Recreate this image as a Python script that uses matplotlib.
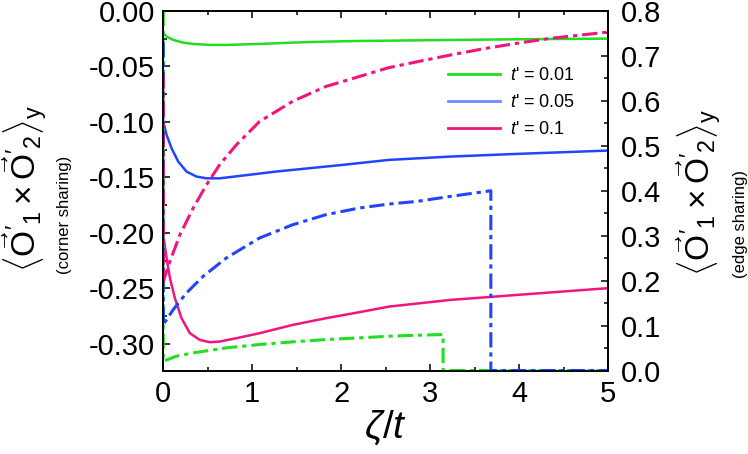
import matplotlib
matplotlib.use("Agg")
import matplotlib.pyplot as plt
from matplotlib.lines import Line2D
from matplotlib.ticker import MultipleLocator

plt.rcParams['font.family'] = ['Liberation Sans', 'DejaVu Sans']
plt.rcParams['mathtext.fontset'] = 'custom'
plt.rcParams['mathtext.rm'] = 'Liberation Sans'
plt.rcParams['mathtext.it'] = 'Liberation Sans:italic'
plt.rcParams['mathtext.sf'] = 'Liberation Sans'

# corner sharing (left axis, solid)
x_g = [0.0, 0.037, 0.112, 0.224, 0.336, 0.522, 0.709, 1.082, 1.455, 1.828, 2.20, 2.48, 3.23, 3.97, 5.0]
y_g = [-0.0201, -0.0231, -0.0261, -0.0285, -0.0297, -0.0306, -0.0306, -0.0297, -0.0285, -0.0276,
       -0.0270, -0.0268, -0.0261, -0.0255, -0.0249]
x_b = [0.0, 0.037, 0.093, 0.168, 0.261, 0.373, 0.485, 0.634, 0.896, 1.269, 1.642, 2.015, 2.537,
       3.228, 3.974, 5.0]
y_b = [-0.0997, -0.1117, -0.1237, -0.1357, -0.1447, -0.1492, -0.1508, -0.1508, -0.1483, -0.1447,
       -0.1417, -0.1387, -0.1342, -0.1312, -0.1288, -0.1258]
x_p = [0.0, 0.037, 0.075, 0.131, 0.205, 0.299, 0.410, 0.522, 0.634, 0.821, 1.082, 1.455, 1.828,
       2.201, 2.537, 3.228, 3.974, 5.0]
y_p = [-0.2018, -0.2228, -0.2408, -0.2589, -0.2769, -0.2904, -0.2964, -0.2985, -0.2979, -0.2949,
       -0.2904, -0.2829, -0.2769, -0.2715, -0.2664, -0.2604, -0.2559, -0.2498]

# edge sharing (right axis, dash-dot)
xe_g = [0.0, 0.0, 0.149, 0.336, 0.709, 1.082, 1.455, 1.828, 2.201, 2.537, 2.854, 3.146, 3.146, 5.0]
ye_g = [0.80, 0.0207, 0.0319, 0.0393, 0.0504, 0.0578, 0.0637, 0.0689, 0.0726, 0.0763, 0.0785, 0.080,
        0.0, 0.0]
xe_b = [0.0, 0.0, 0.112, 0.261, 0.448, 0.709, 1.082, 1.455, 1.828, 2.201, 2.537, 2.854, 3.228, 3.683,
        3.683, 5.0]
ye_b = [0.73, 0.102, 0.1356, 0.1726, 0.2096, 0.2504, 0.2948, 0.3244, 0.3467, 0.3615, 0.3704, 0.3763,
        0.3874, 0.400, 0.0, 0.0]
xe_p = [0.0, 0.0, 0.075, 0.187, 0.336, 0.485, 0.634, 0.821, 1.082, 1.455, 1.828, 2.201, 2.537, 2.854,
        3.228, 3.601, 3.974, 4.347, 5.0]
ye_p = [0.66, 0.1985, 0.243, 0.302, 0.3615, 0.413, 0.458, 0.502, 0.554, 0.599, 0.632, 0.654, 0.674,
        0.687, 0.702, 0.716, 0.728, 0.739, 0.753]

labels = ["$t$' = 0.01", "$t$' = 0.05", "$t$' = 0.1"]
green, blue, pink = '#22dd22', '#2244ff', '#f0157f'

fig = plt.figure(figsize=(7.48, 4.54), dpi=100)
ax = fig.add_axes([0.2183, 0.1839, 0.5945, 0.7919])
ax2 = ax.twinx()

ax.plot(x_g, y_g, color=green, lw=1.8)
ax.plot(x_b, y_b, color=blue, lw=1.8)
ax.plot(x_p, y_p, color=pink, lw=1.8)

dd = (5, 1.6, 1.4, 1.6)
for xs, ys, c in [(xe_g, ye_g, green), (xe_b, ye_b, blue), (xe_p, ye_p, pink)]:
    ax2.plot(xs, ys, color=c, lw=2.2, dashes=dd)

ax.set_xlim(0, 5)
ax.set_ylim(-0.324, 0.0)
ax2.set_ylim(0, 0.8)

ax.xaxis.set_major_locator(MultipleLocator(1))
ax.xaxis.set_minor_locator(MultipleLocator(0.5))
ax.yaxis.set_major_locator(MultipleLocator(0.05))
ax.yaxis.set_minor_locator(MultipleLocator(0.025))
ax2.yaxis.set_major_locator(MultipleLocator(0.1))
ax2.yaxis.set_minor_locator(MultipleLocator(0.05))
ax.yaxis.set_major_formatter(matplotlib.ticker.FormatStrFormatter('%.2f'))
ax2.yaxis.set_major_formatter(matplotlib.ticker.FormatStrFormatter('%.1f'))

ax.tick_params(axis='x', which='both', direction='in', top=True, labelsize=21, pad=7, width=1.1)
ax.tick_params(axis='y', which='both', direction='in', right=False, labelsize=21, pad=6, width=1.1)
ax2.tick_params(axis='y', which='both', direction='in', labelsize=21, pad=9, width=1.1)
for a in (ax, ax2):
    a.tick_params(which='major', length=5)
    a.tick_params(which='minor', length=3)
    for s in a.spines.values():
        s.set_linewidth(1.2)

ax.set_xlabel(r'$\zeta/t$', fontsize=28, labelpad=0)

big = r"$\langle\vec{\mathrm{O}}'_1\times\vec{\mathrm{O}}'_2\rangle_\mathrm{y}$"
W, H = 748.0, 454.0
fig.text(25 / W, 1 - 272 / H, big, rotation=90, ha='center', va='bottom', fontsize=24)
fig.text(65 / W, 1 - 274 / H, '(corner sharing)', rotation=90, ha='center', va='bottom', fontsize=12)
fig.text(699 / W, 1 - 276 / H, big, rotation=90, ha='center', va='bottom', fontsize=24)
fig.text(740 / W, 1 - 278 / H, '(edge sharing)', rotation=90, ha='center', va='bottom', fontsize=12)

handles = [Line2D([], [], color=green, lw=2.0),
           Line2D([], [], color='#6f8cff', lw=2.0),
           Line2D([], [], color=pink, lw=2.0)]
ax2.legend(handles, labels, loc='upper left', bbox_to_anchor=(448 / W, 1 - 67 / H),
           bbox_transform=fig.transFigure, frameon=False, fontsize=13,
           handlelength=2.9, handletextpad=0.55, labelspacing=0.55, borderpad=0, borderaxespad=0)

fig.savefig('out.png', dpi=100)
